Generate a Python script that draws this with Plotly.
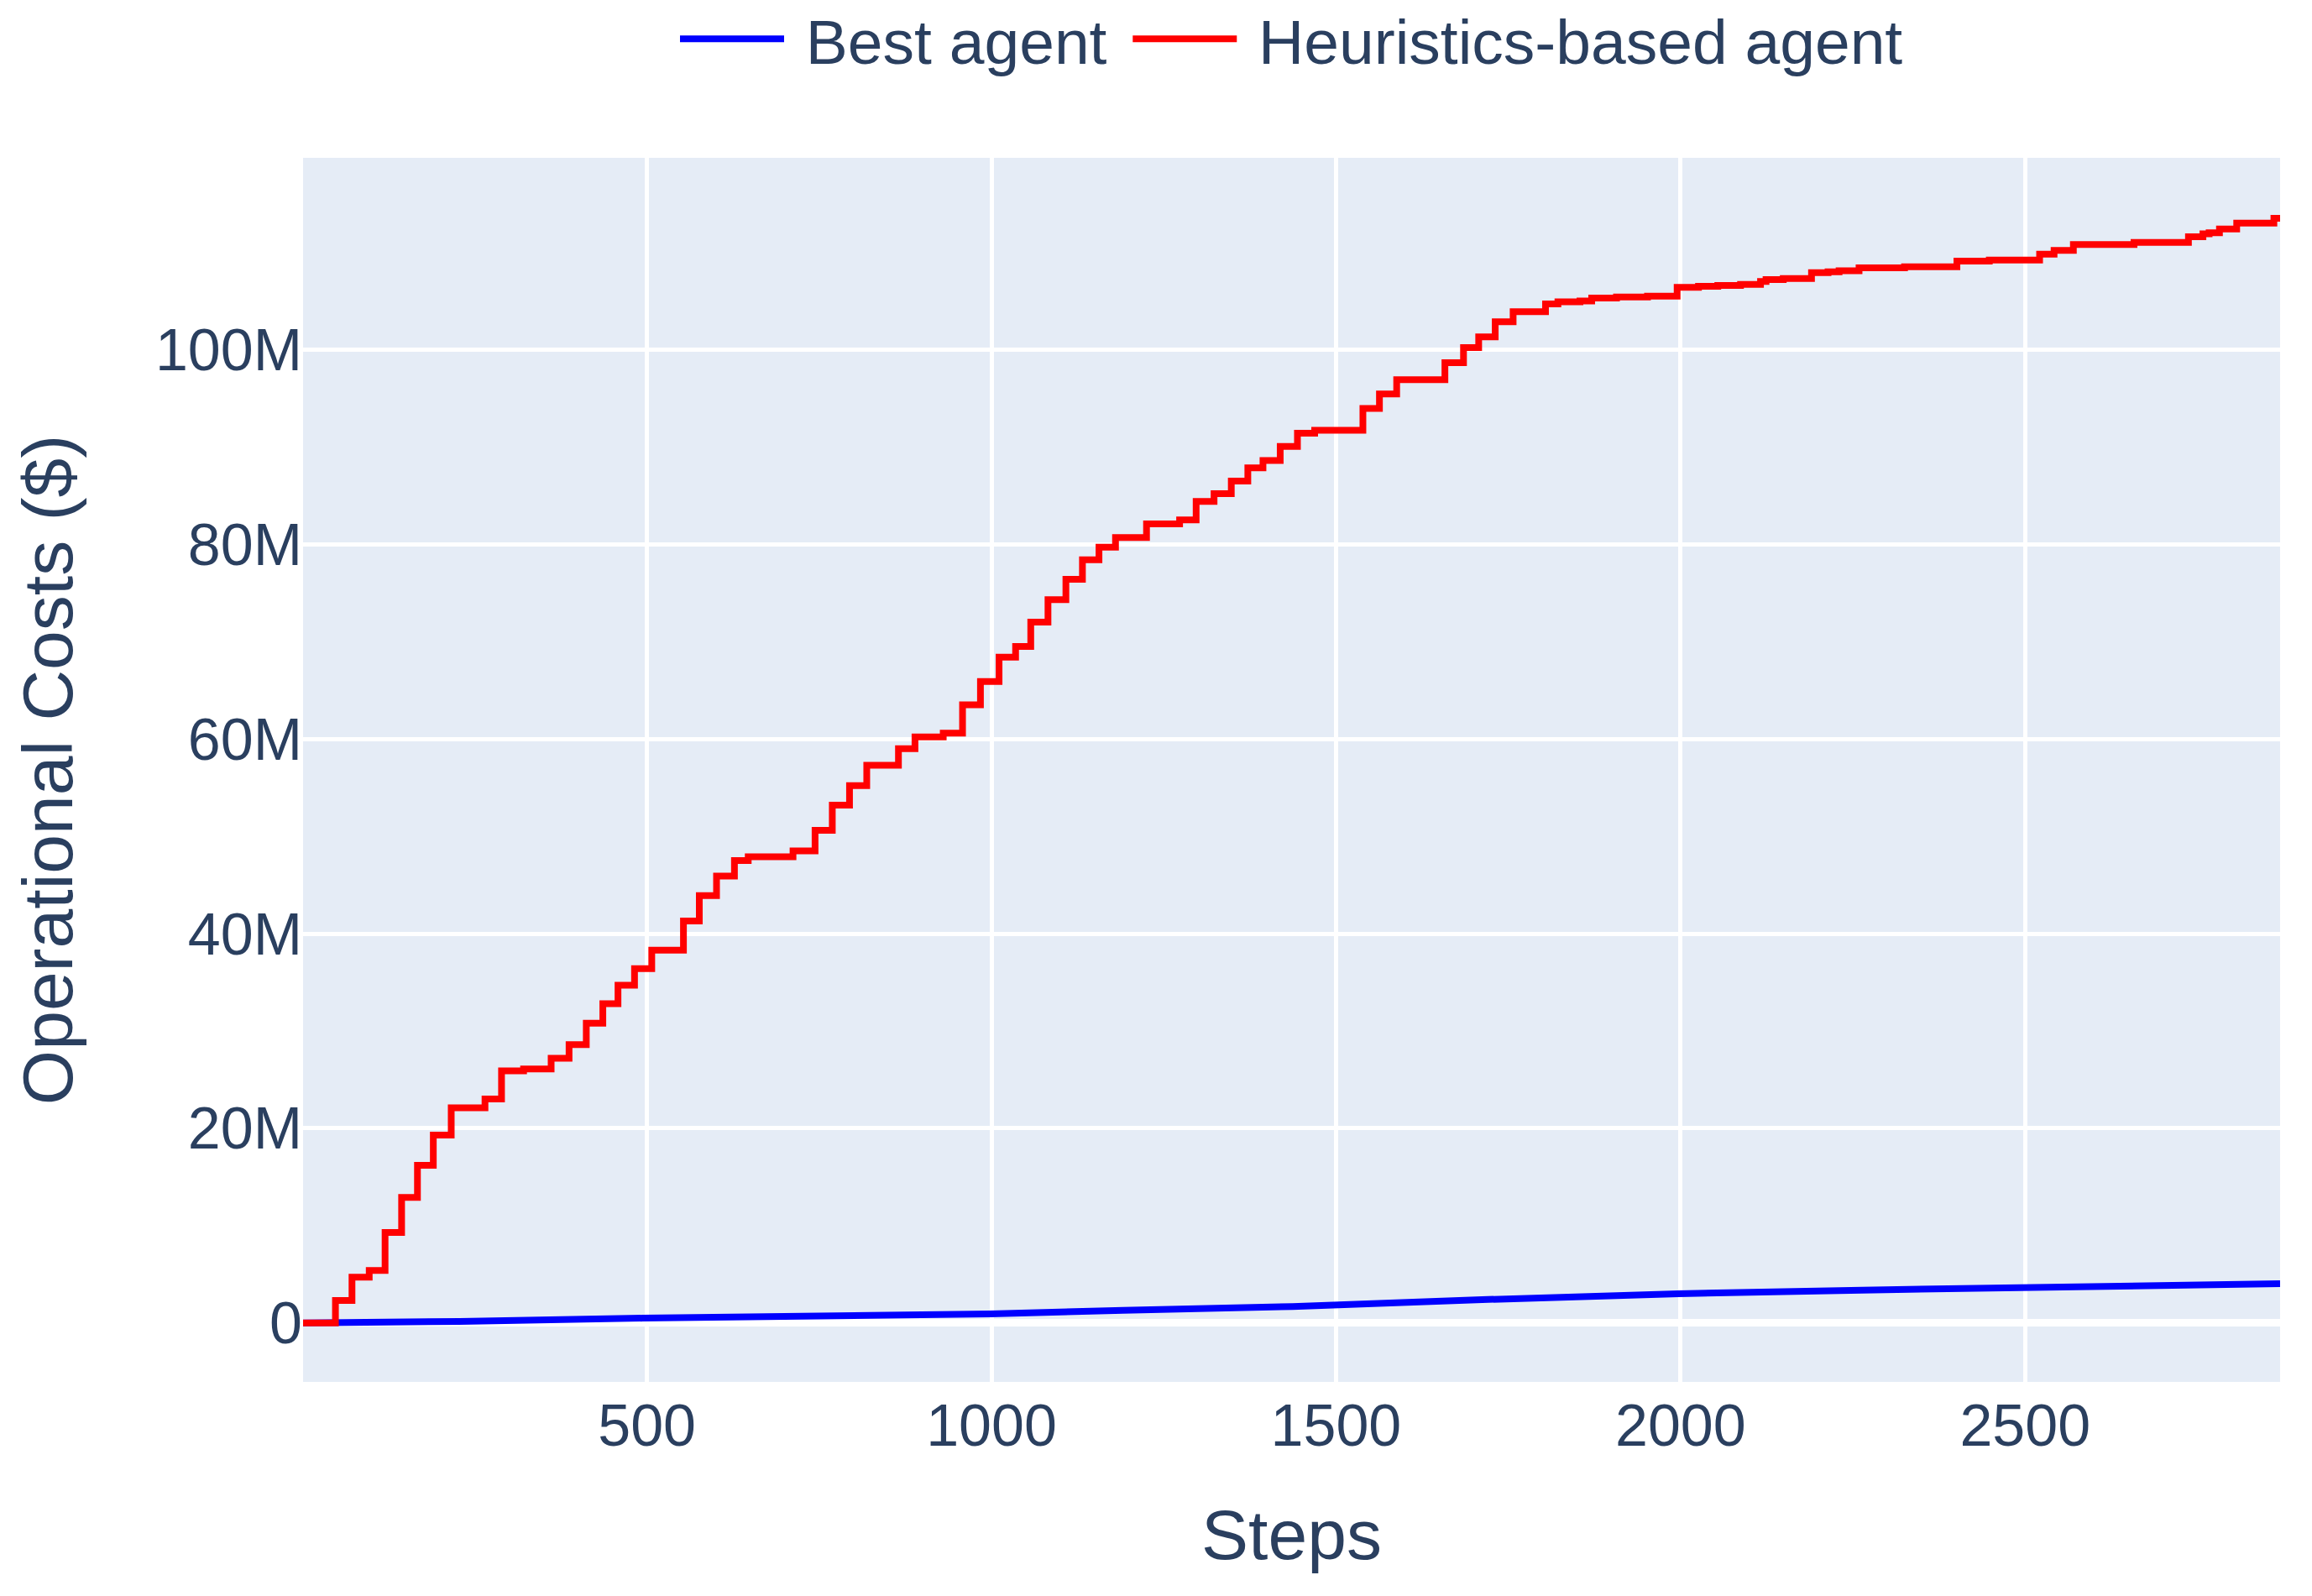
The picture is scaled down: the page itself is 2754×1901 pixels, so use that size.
import plotly.graph_objects as go

# step index where each cost level starts (heuristics agent is a staircase)
steps_heur = [1, 48, 72, 97, 120, 144, 167, 190, 216, 265,
              289, 321, 361, 387, 412, 436, 458, 482, 507, 553,
              576, 601, 627, 647, 712, 744, 769, 794, 819, 865,
              889, 930, 958, 984, 1011, 1035, 1057, 1082, 1108, 1132,
              1156, 1180, 1225, 1273, 1297, 1323, 1348, 1372, 1394, 1419,
              1444, 1469, 1539, 1563, 1588, 1658, 1685, 1707, 1731, 1757,
              1804, 1822, 1854, 1871, 1907, 1952, 1995, 2026, 2054, 2087,
              2116, 2124, 2149, 2190, 2214, 2230, 2259, 2325, 2401, 2448,
              2521, 2542, 2570, 2658, 2737, 2758, 2767, 2782, 2807, 2861,
              2870]
# cumulative cost, millions of $
cost_heur = [0, 2.3, 4.7, 5.4, 9.3, 12.9, 16.2, 19.3, 22.1, 23.0,
             25.9, 26.1, 27.2, 28.6, 30.8, 32.8, 34.7, 36.4, 38.3, 41.3,
             43.9, 45.9, 47.5, 47.9, 48.5, 50.6, 53.2, 55.2, 57.3, 59.0,
             60.2, 60.6, 63.5, 65.9, 68.4, 69.5, 72.0, 74.3, 76.4, 78.4,
             79.7, 80.7, 82.1, 82.5, 84.4, 85.2, 86.5, 87.85, 88.6, 90.05,
             91.4, 91.7, 93.95, 95.45, 96.9, 98.65, 100.2, 101.3, 102.85, 103.9,
             104.7, 104.9, 105.0, 105.3, 105.4, 105.5, 106.4, 106.5, 106.6, 106.7,
             107.0, 107.2, 107.3, 107.9, 108.0, 108.1, 108.4, 108.5, 109.1, 109.2,
             109.8, 110.2, 110.8, 111.0, 111.6, 111.9, 112.0, 112.4, 113.0, 113.5,
             113.5]

steps_best = [1, 50, 228, 494, 733, 998, 1191, 1437, 1712, 1997, 2263, 2502, 2870]
cost_best = [0, 0, 0.15, 0.49, 0.69, 0.93, 1.3, 1.68, 2.39, 3.0, 3.37, 3.66, 4.03]

font = "Liberation Sans, Arial, sans-serif"

fig = go.Figure()

# nbsp only pads the legend entries apart
fig.add_trace(go.Scatter(
    x=steps_best, y=[c * 1e6 for c in cost_best],
    mode='lines', name='\u00a0Best agent\u00a0',
    line=dict(color='blue', width=8)
))
fig.add_trace(go.Scatter(
    x=steps_heur, y=[c * 1e6 for c in cost_heur],
    mode='lines', name='\u00a0Heuristics-based agent',
    line=dict(color='red', width=8, shape='hv')
))

fig.update_layout(
    template='plotly',
    width=2754, height=1901,
    margin=dict(l=353, r=46, t=180, b=263, autoexpand=False),
    font=dict(family=font, size=70, color='#2a3f5f'),
    legend=dict(orientation='h', x=0.5, xanchor='center',
                y=1.097, yanchor='middle', font=dict(size=75),
                itemwidth=124),
    xaxis=dict(title=dict(text='Steps', font=dict(size=84), standoff=62),
               range=[1, 2870], gridwidth=5, tickfont=dict(size=70),
               ticklabelstandoff=5, automargin=False),
    yaxis=dict(title=dict(text='Operational Costs ($)', font=dict(size=84), standoff=70),
               range=[-6.06e6, 119.7e6], gridwidth=5, zerolinewidth=9,
               tickfont=dict(size=70), automargin=False),
)

fig.write_html("out.html")
